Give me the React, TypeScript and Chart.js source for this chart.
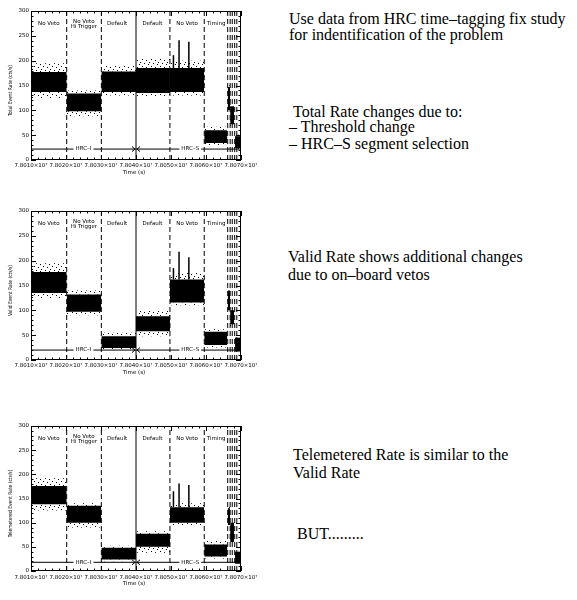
import React, { useEffect, useRef } from 'react';
import { Chart, registerables } from 'chart.js';

Chart.register(...registerables);

// ---------- data ----------
const timeMin = 7.801e7;
const timeMax = 7.807e7;
const rateMin = 0;
const rateMax = 300;

// time segments of the observation (s)
const segmentStart = [7.801e7, 7.80202e7, 7.80301e7, 7.804e7, 7.80497e7, 7.80595e7, 7.80662e7, 7.80669e7, 7.80683e7];
const segmentEnd = [7.80202e7, 7.80301e7, 7.804e7, 7.80497e7, 7.80595e7, 7.80661e7, 7.80669e7, 7.8068e7, 7.807e7];

// mode change markers
const modeBoundaries = [7.80202e7, 7.80301e7, 7.804e7, 7.80497e7, 7.80595e7, 7.80662e7, 7.80669e7, 7.80675e7, 7.80682e7, 7.80688e7];
const boundaryDashed = [true, true, false, true, true, true, true, true, true, true];

const modeLabels = [['No Veto'], ['No Veto', 'Hi Trigger'], ['Default'], ['Default'], ['No Veto'], ['Timing']];
const modeLabelTimes = [7.80151e7, 7.80251e7, 7.80346e7, 7.80447e7, 7.80546e7, 7.80629e7];

const hrcSwitchTime = 7.804e7;
const hrcLabels = ['HRC\u2013I', 'HRC\u2013S'];
const hrcLabelTimes = [7.8025e7, 7.80555e7];

const spikeTimes = [7.80507e7, 7.80523e7, 7.80551e7];

// Total event rate (cts/s)
const totalCoreLo = [137, 98, 137, 135, 137, 34, 100, 72, 24];
const totalCoreHi = [177, 134, 178, 185, 185, 60, 147, 108, 48];
const totalScatLo = [125, 88, 130, 128, 130, 30, 96, 68, 21];
const totalScatHi = [195, 140, 190, 205, 200, 67, 150, 112, 51];
const totalSpikes = [211, 241, 238];
const totalHrcLevel = 22;

// Valid event rate (cts/s)
const validCoreLo = [135, 97, 24, 58, 116, 30, 100, 72, 17];
const validCoreHi = [177, 132, 48, 88, 162, 57, 140, 100, 45];
const validScatLo = [125, 90, 20, 48, 110, 25, 96, 68, 14];
const validScatHi = [195, 140, 55, 100, 175, 62, 144, 104, 48];
const validSpikes = [185, 218, 207];
const validHrcLevel = 20;

// Telemetered event rate (cts/s)
const telemCoreLo = [138, 100, 24, 50, 100, 30, 95, 60, 15];
const telemCoreHi = [176, 135, 48, 77, 132, 55, 130, 100, 40];
const telemScatLo = [125, 90, 20, 38, 95, 26, 91, 56, 12];
const telemScatHi = [192, 140, 52, 82, 140, 62, 134, 104, 43];
const telemSpikes = [165, 181, 178];
const telemHrcLevel = 18;

const textLines = [
  { text: 'Use data from HRC time\u2013tagging fix study', x: 289, base: 24 },
  { text: 'for indentification of the problem', x: 289, base: 40 },
  { text: 'Total Rate changes due to:', x: 293, base: 117 },
  { text: '\u2013 Threshold change', x: 289, base: 132 },
  { text: '\u2013 HRC\u2013S segment selection', x: 289, base: 149 },
  { text: 'Valid Rate shows additional changes', x: 288, base: 262 },
  { text: 'due to on\u2013board vetos', x: 288, base: 280 },
  { text: 'Telemetered Rate is similar to the', x: 293, base: 460 },
  { text: 'Valid Rate', x: 293, base: 478 },
  { text: 'BUT.........', x: 297, base: 539 },
];

type PanelProps = {
  title: string;
  coreLo: number[];
  coreHi: number[];
  scatLo: number[];
  scatHi: number[];
  spikes: number[];
  hrcLevel: number;
  top: number;
  plotHeight: number;
  tickPad: number;
};

const FONT = 'DejaVu Sans';

function makePattern(): CanvasPattern | string {
  const c = document.createElement('canvas');
  c.width = 9;
  c.height = 7;
  const g = c.getContext('2d');
  if (!g) return 'rgba(0,0,0,0.1)';
  g.fillStyle = '#000';
  [[0, 0], [4, 1], [7, 3], [2, 4], [5, 6]].forEach(([a, b]) => g.fillRect(a, b, 1, 1));
  const p = g.createPattern(c, 'repeat');
  return p || 'rgba(0,0,0,0.1)';
}

function Panel(props: PanelProps) {
  const ref = useRef<HTMLCanvasElement | null>(null);
  const W = 262;
  const plotRight = 241;
  const padTop = 11;
  const xAxisH = 25;
  const H = padTop + props.plotHeight + xAxisH;

  useEffect(() => {
    const canvas = ref.current;
    if (!canvas) return;
    const pattern = makePattern();
    const datasets: any[] = [];
    const base = { pointRadius: 0, borderColor: '#000', borderWidth: 1, fill: false, tension: 0 };

    modeBoundaries.forEach((b, i) => {
      datasets.push({
        ...base,
        data: [{ x: b, y: rateMin }, { x: b, y: rateMax }],
        borderDash: boundaryDashed[i] ? [5, 3] : [],
      });
    });
    datasets.push({ ...base, data: [{ x: timeMin, y: props.hrcLevel }, { x: timeMax, y: props.hrcLevel }] });
    spikeTimes.forEach((t, i) => {
      datasets.push({ ...base, borderWidth: 1.5, data: [{ x: t, y: props.coreHi[4] }, { x: t, y: props.spikes[i] }] });
    });
    segmentStart.forEach((s, i) => {
      const e = segmentEnd[i];
      const pts = (v: number) => [{ x: s, y: v }, { x: e, y: v }];
      const band = { pointRadius: 0, borderColor: 'rgba(0,0,0,0)', borderWidth: 1, tension: 0 };
      datasets.push({ ...band, data: pts(props.scatHi[i]), fill: false });
      datasets.push({ ...band, data: pts(props.coreHi[i]), fill: '-1', backgroundColor: pattern });
      datasets.push({ ...band, data: pts(props.coreLo[i]), fill: '-1', backgroundColor: '#000' });
      datasets.push({ ...band, data: pts(props.scatLo[i]), fill: '-1', backgroundColor: pattern });
    });

    const decor = {
      id: 'decor',
      afterDraw(chart: any) {
        const ctx = chart.ctx as CanvasRenderingContext2D;
        const xs = chart.scales.x;
        const ys = chart.scales.y;
        const { left, right, top, bottom } = chart.chartArea;
        ctx.save();
        ctx.fillStyle = '#000';
        ctx.strokeStyle = '#000';
        ctx.lineWidth = 1;

        // HRC labels with gap
        ctx.font = `5.5px "${FONT}"`;
        ctx.textAlign = 'center';
        ctx.textBaseline = 'middle';
        const hy = ys.getPixelForValue(props.hrcLevel);
        hrcLabels.forEach((lab, i) => {
          const px = xs.getPixelForValue(hrcLabelTimes[i]);
          const w = ctx.measureText(lab).width;
          ctx.fillStyle = '#fff';
          ctx.fillRect(px - w / 2 - 2, hy - 2, w + 4, 4);
          ctx.fillStyle = '#000';
          ctx.fillText(lab, px, hy);
        });
        // switch arrows
        const sx = Math.round(xs.getPixelForValue(hrcSwitchTime));
        ctx.beginPath();
        ctx.moveTo(sx - 4, hy - 2.5);
        ctx.lineTo(sx - 1, hy);
        ctx.lineTo(sx - 4, hy + 2.5);
        ctx.moveTo(sx + 4, hy - 2.5);
        ctx.lineTo(sx + 1, hy);
        ctx.lineTo(sx + 4, hy + 2.5);
        ctx.stroke();

        // mode labels
        ctx.textBaseline = 'middle';
        modeLabels.forEach((lines, i) => {
          const px = xs.getPixelForValue(modeLabelTimes[i]);
          if (lines.length === 1) {
            ctx.fillText(lines[0], px, top + 13);
          } else {
            ctx.fillText(lines[0], px, top + 10.5);
            ctx.fillText(lines[1], px, top + 15.5);
          }
        });

        // frame
        ctx.strokeRect(left + 0.5, top + 0.5, right - left - 1, bottom - top - 1);
        // ticks
        ctx.beginPath();
        for (let i = 0; i <= 30; i++) {
          const v = timeMin + i * 2000;
          const px = Math.round(xs.getPixelForValue(v)) + 0.5;
          const len = i % 5 === 0 ? 5 : 2.5;
          ctx.moveTo(px, bottom);
          ctx.lineTo(px, bottom - len);
          ctx.moveTo(px, top);
          ctx.lineTo(px, top + len);
        }
        for (let i = 0; i <= 30; i++) {
          const v = i * 10;
          const py = Math.round(ys.getPixelForValue(v)) + 0.5;
          const len = i % 5 === 0 ? 5 : 2.5;
          ctx.moveTo(left, py);
          ctx.lineTo(left + len, py);
          ctx.moveTo(right, py);
          ctx.lineTo(right - len, py);
        }
        ctx.stroke();

        // axis titles
        ctx.font = `5.5px "${FONT}"`;
        ctx.textAlign = 'center';
        ctx.textBaseline = 'middle';
        ctx.fillText('Time (s)', (left + right) / 2 - 2, bottom + 13);
        ctx.save();
        ctx.translate(11, (top + bottom) / 2 + 5);
        ctx.rotate(-Math.PI / 2);
        ctx.scale(0.8, 1);
        ctx.fillText(props.title, 0, 0);
        ctx.restore();
        ctx.restore();
      },
    };

    const chart = new Chart(canvas, {
      type: 'line',
      data: { datasets },
      plugins: [decor],
      options: {
        animation: false,
        responsive: false,
        maintainAspectRatio: false,
        events: [],
        layout: { padding: { top: padTop, right: W - plotRight, left: 0, bottom: 0 } },
        plugins: { legend: { display: false }, tooltip: { enabled: false } },
        scales: {
          x: {
            type: 'linear',
            min: timeMin,
            max: timeMax,
            afterFit: (s: any) => {
              s.height = xAxisH;
              s.paddingLeft = 0;
              s.paddingRight = 0;
            },
            grid: { display: false, drawTicks: false },
            border: { display: false },
            ticks: {
              stepSize: 1e4,
              autoSkip: false,
              maxRotation: 0,
              minRotation: 0,
              padding: props.tickPad,
              color: '#000',
              font: { family: FONT, size: 5.5 },
              callback: (v: any) => (Number(v) / 1e7).toFixed(4) + '\u00d710\u2077',
            },
          },
          y: {
            type: 'linear',
            min: rateMin,
            max: rateMax,
            afterFit: (s: any) => {
              s.width = 31;
              s.paddingTop = 0;
              s.paddingBottom = 0;
            },
            grid: { display: false, drawTicks: false },
            border: { display: false },
            ticks: {
              stepSize: 50,
              padding: 2,
              color: '#000',
              font: { family: FONT, size: 5.5 },
            },
          },
        },
      } as any,
    });
    return () => chart.destroy();
  }, []);

  return (
    <canvas
      ref={ref}
      width={W}
      height={H}
      style={{ position: 'absolute', left: 0, top: props.top, width: W, height: H }}
    />
  );
}

export default function App() {
  return (
    <div style={{ position: 'absolute', left: 0, top: 0, width: 577, height: 600, background: '#fff', overflow: 'hidden' }}>
      <Panel title="Total Event Rate (cts/s)" coreLo={totalCoreLo} coreHi={totalCoreHi} scatLo={totalScatLo} scatHi={totalScatHi} spikes={totalSpikes} hrcLevel={totalHrcLevel} top={0} plotHeight={149} tickPad={2} />
      <Panel title="Valid Event Rate (cts/s)" coreLo={validCoreLo} coreHi={validCoreHi} scatLo={validScatLo} scatHi={validScatHi} spikes={validSpikes} hrcLevel={validHrcLevel} top={200} plotHeight={149} tickPad={2} />
      <Panel title="Telemetered Event Rate (cts/s)" coreLo={telemCoreLo} coreHi={telemCoreHi} scatLo={telemScatLo} scatHi={telemScatHi} spikes={telemSpikes} hrcLevel={telemHrcLevel} top={415} plotHeight={145} tickPad={3} />
      {textLines.map((l, i) => (
        <div
          key={i}
          style={{
            position: 'absolute',
            left: l.x,
            top: l.base - 13.4,
            fontFamily: '"Liberation Serif", "Times New Roman", serif',
            fontSize: 16,
            lineHeight: '16px',
            whiteSpace: 'pre',
            color: '#000',
          }}
        >
          {l.text}
        </div>
      ))}
    </div>
  );
}
